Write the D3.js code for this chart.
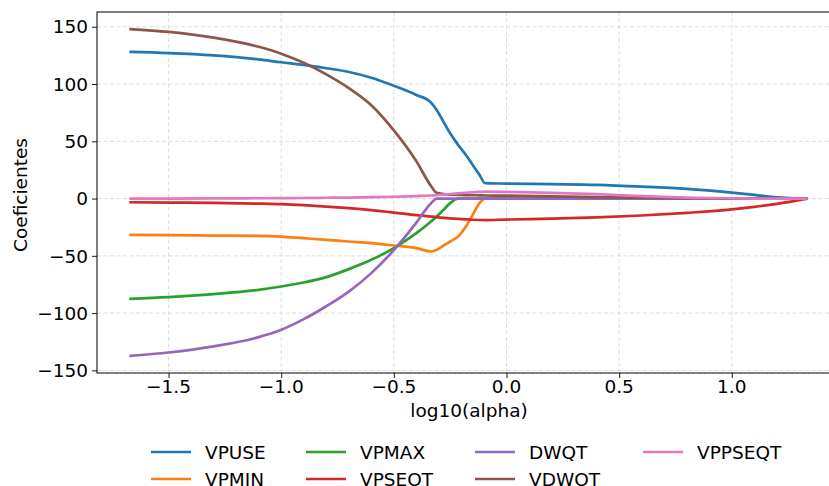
<!DOCTYPE html>
<html><head><meta charset="utf-8">
<script src="https://cdn.jsdelivr.net/npm/d3@7"></script>
<style>
html,body{margin:0;padding:0;background:#fff;overflow:hidden}
text{font-family:"DejaVu Sans",sans-serif;fill:#000}
</style></head>
<body>
<svg id="c" width="829" height="486"></svg>
<script>
const alphaLog = [-1.674,-1.5,-1.3,-1.1,-1.0,-0.9,-0.8,-0.7,-0.6,-0.5,-0.4,-0.335,-0.31,-0.28,-0.25,-0.215,-0.18,-0.15,-0.12,-0.095,0.0,0.2,0.4,0.6,0.8,1.0,1.1,1.2,1.335];
const VPUSE   = [128,127,125,121.5,119,116.7,113.8,110.5,105.5,98.5,90.5,83.8,77.4,67.2,57,46.9,38.1,29.4,20.7,13.4,13.1,12.6,12.0,10.5,8.5,5.2,3.2,1.0,0];
const VPMIN   = [-31.7,-32,-32.3,-32.6,-33.2,-34.6,-36,-37.5,-38.9,-41,-43.3,-46.2,-44.8,-41,-37.5,-33.2,-24.4,-14.2,-4,0,0,0,0,0,0,0,0,0,0];
const VPMAX   = [-87.5,-86,-83.4,-79.7,-76.8,-73.3,-68.6,-61.6,-53.5,-43.3,-30.2,-20,-15.7,-9.9,-4,0,0,0,0,0,0,0,0,0,0,0,0,0,0];
const VPSEOT  = [-3.2,-3.5,-3.8,-4.4,-4.9,-5.8,-7,-8.4,-10.1,-12.2,-14.5,-15.7,-16.2,-16.8,-17.3,-17.8,-18.2,-18.5,-18.7,-18.8,-18.3,-17.5,-16.5,-14.8,-12.5,-9.5,-7.3,-4.6,0];
const DWQT    = [-137.3,-134.4,-129.1,-121,-114.6,-105.3,-94,-81.2,-65.1,-45,-21,-4,0,0,0,0,0,0,0,0,0,0,0,0,0,0,0,0,0];
const VDWOT   = [148,145.5,140.5,132.5,126.5,118.5,108.5,96.5,81.5,59.5,32.5,11,5,4,3.5,3.3,3,3,2.8,2.7,2.5,2,1.3,0.6,0.1,0,0,0,0];
const VPPSEQT = [0,0,0.1,0.3,0.4,0.5,0.7,0.9,1.2,1.6,2.2,2.7,3.0,3.5,4.0,4.6,5.1,5.5,5.8,6.0,5.8,5.0,3.8,2.2,0.8,0.2,0,0,0];

const seriesNames = ["VPUSE","VPMIN","VPMAX","VPSEOT","DWQT","VDWOT","VPPSEQT"];
const seriesValues = [VPUSE,VPMIN,VPMAX,VPSEOT,DWQT,VDWOT,VPPSEQT];
const colors = ["#1f77b4","#ff7f0e","#2ca02c","#d62728","#9467bd","#8c564b","#e377c2"];
const xTicks = [-1.5,-1.0,-0.5,0.0,0.5,1.0];
const yTicks = [-150,-100,-50,0,50,100,150];
const xLabel = "log10(alpha)";
const yLabel = "Coeficientes";

const FS = 18.5;
const L = 97, R = 841, T = 12, B = 373;
const svg = d3.select("#c");
const x = d3.scaleLinear().domain([-1.8176, 1.4847]).range([L, R]);
const y = d3.scaleLinear().domain([-152.3, 162.9]).range([B, T]);

function fmtX(v){ return (v<0?"\u2212":"") + Math.abs(v).toFixed(1); }
function fmtY(v){ return (v<0?"\u2212":"") + Math.abs(v); }

function txt(g, px, py, s, anchor, rot){
  return g.append("text")
    .attr("transform", `translate(${px},${py})` + (rot ? ` rotate(${rot})` : ""))
    .attr("text-anchor", anchor)
    .style("font-size", FS + "px")
    .text(s);
}

// grid
const grid = svg.append("g");
grid.selectAll("line.gx").data(xTicks).join("line")
  .attr("x1", d=>x(d)).attr("x2", d=>x(d)).attr("y1", T).attr("y2", B)
  .attr("stroke", "#d9d9d9").attr("stroke-width", 0.9).attr("stroke-dasharray", "4,2.5");
grid.selectAll("line.gy").data(yTicks).join("line")
  .attr("y1", d=>y(d)).attr("y2", d=>y(d)).attr("x1", L).attr("x2", R)
  .attr("stroke", "#d9d9d9").attr("stroke-width", 0.9).attr("stroke-dasharray", "4,2.5");

// lines
const line = d3.line().x((d,i)=>x(alphaLog[i])).y(d=>y(d)).curve(d3.curveMonotoneX);
const lg = svg.append("g");
seriesValues.forEach((vals, k) => {
  lg.append("path").attr("d", line(vals)).attr("fill","none")
    .attr("stroke", colors[k]).attr("stroke-width", 2.7)
    .attr("stroke-linejoin","round").attr("stroke-linecap","butt");
});

// axes with d3
const xAxis = d3.axisBottom(x).tickValues(xTicks).tickSize(5).tickFormat(()=>"");
const yAxis = d3.axisLeft(y).tickValues(yTicks).tickSize(5).tickFormat(()=>"");
const gx = svg.append("g").attr("transform", `translate(0,${B})`).call(xAxis);
const gy = svg.append("g").attr("transform", `translate(${L},0)`).call(yAxis);
[gx, gy].forEach(g => { g.select(".domain").remove(); g.selectAll("line").attr("stroke","#000").attr("stroke-width",0.9); });

// spines
svg.append("rect").attr("x", L).attr("y", T).attr("width", R-L).attr("height", B-T)
  .attr("fill","none").attr("stroke","#000").attr("stroke-width",1);

// tick labels
const tl = svg.append("g");
xTicks.forEach(v => txt(tl, x(v), 393, fmtX(v), "middle"));
yTicks.forEach(v => txt(tl, 88, y(v) + 6.7, fmtY(v), "end"));

// axis labels
txt(svg, (L+R)/2, 417, xLabel, "middle");
txt(svg, 27, 195, yLabel, "middle", -90);

// legend (column-major, 4 columns)
const colX = [151, 306, 475, 643];
const rowY = [452, 479];
const leg = svg.append("g");
seriesNames.forEach((n, i) => {
  const c = Math.floor(i/2), r = i%2;
  leg.append("line").attr("x1", colX[c]).attr("x2", colX[c]+40)
    .attr("y1", rowY[r]).attr("y2", rowY[r])
    .attr("stroke", colors[i]).attr("stroke-width", 2.7);
  txt(leg, colX[c]+54, rowY[r]+6.7, n, "start");
});
</script>
</body></html>
